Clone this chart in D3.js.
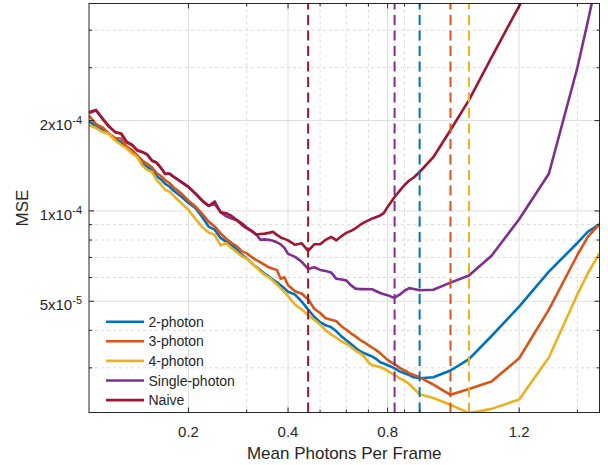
<!DOCTYPE html>
<html lang="en">
<head>
<meta charset="UTF-8">
<title>MSE vs mean photons per frame</title>
<script src="https://d3js.org/d3.v7.min.js"></script>
<style>
  body { margin: 0; background: #fff; }
  text { font-family: "Liberation Sans", Arial, Helvetica, sans-serif; fill: #262626; }
</style>
</head>
<body>
<script>
// x positions (log axis) shared by all series
var photons = [0.10, 0.105, 0.11, 0.115, 0.12, 0.125, 0.13, 0.135, 0.14, 0.145, 0.15, 0.155, 0.16, 0.165, 0.17, 0.175, 0.18,
  0.19, 0.20, 0.21, 0.22, 0.23, 0.24, 0.25, 0.26, 0.27, 0.28, 0.29, 0.30, 0.31, 0.32, 0.33, 0.34, 0.35, 0.36, 0.37, 0.38, 0.39, 0.40,
  0.42, 0.44, 0.46, 0.48, 0.50, 0.52, 0.54, 0.56, 0.58, 0.60, 0.62, 0.64, 0.66, 0.68, 0.70, 0.72, 0.74, 0.76, 0.78, 0.80, 0.82, 0.84,
  0.87, 0.90, 0.93, 0.96, 1.0,
  1.1, 1.24, 1.41, 1.65, 2.0, 2.46, 3.0, 3.23, 3.5];

// MSE, in units of 1e-4
var twoPhoton = [1.99, 1.910, 1.860, 1.806, 1.729, 1.696, 1.627, 1.572, 1.520, 1.445, 1.401, 1.369, 1.307, 1.273, 1.230, 1.206, 1.170,
  1.117, 1.063, 1.021, 0.955, 0.887, 0.866, 0.813, 0.789, 0.768, 0.745, 0.714, 0.695, 0.671, 0.651, 0.634, 0.617, 0.605, 0.590, 0.578, 0.565, 0.552, 0.538,
  0.526, 0.499, 0.469, 0.444, 0.426, 0.416, 0.410, 0.397, 0.382, 0.371, 0.360, 0.350, 0.341, 0.336, 0.331, 0.327, 0.321, 0.313, 0.310, 0.306, 0.303, 0.299,
  0.292, 0.288, 0.284, 0.279, 0.277,
  0.279, 0.294, 0.321, 0.383, 0.480, 0.628, 0.782, 0.853, 0.903];

var threePhoton = [2.078, 1.947, 1.898, 1.809, 1.749, 1.742, 1.639, 1.596, 1.530, 1.472, 1.436, 1.398, 1.338, 1.307, 1.266, 1.239, 1.199,
  1.144, 1.081, 1.033, 0.977, 0.921, 0.888, 0.842, 0.808, 0.782, 0.762, 0.733, 0.722, 0.703, 0.687, 0.674, 0.661, 0.649, 0.642, 0.636, 0.594, 0.601, 0.565,
  0.540, 0.530, 0.508, 0.472, 0.457, 0.439, 0.434, 0.429, 0.413, 0.402, 0.391, 0.382, 0.372, 0.365, 0.357, 0.350, 0.343, 0.336, 0.327, 0.319, 0.313, 0.309,
  0.300, 0.294, 0.288, 0.284, 0.279,
  0.264, 0.244, 0.255, 0.270, 0.323, 0.469, 0.713, 0.821, 0.903];

var fourPhoton = [1.932, 1.889, 1.831, 1.804, 1.716, 1.661, 1.614, 1.554, 1.512, 1.417, 1.369, 1.348, 1.268, 1.225, 1.175, 1.161, 1.126,
  1.063, 1.008, 0.940, 0.885, 0.847, 0.832, 0.768, 0.780, 0.751, 0.728, 0.706, 0.693, 0.671, 0.651, 0.629, 0.612, 0.601, 0.585, 0.569, 0.552, 0.536, 0.520,
  0.487, 0.470, 0.449, 0.434, 0.418, 0.400, 0.388, 0.378, 0.368, 0.361, 0.352, 0.342, 0.336, 0.327, 0.313, 0.306, 0.304, 0.302, 0.298, 0.293, 0.288, 0.284,
  0.277, 0.272, 0.265, 0.256, 0.245,
  0.238, 0.226, 0.212, 0.219, 0.2355, 0.325, 0.527, 0.621, 0.723];

var singlePhoton = [2.12, 2.16, 2.03, 1.91, 1.83, 1.81, 1.70, 1.66, 1.59, 1.57, 1.54, 1.47, 1.45, 1.39, 1.33, 1.33, 1.30,
  1.25, 1.20, 1.14, 1.08, 1.04, 1.055, 0.992, 0.959, 0.944, 0.93, 0.91, 0.881, 0.858, 0.838, 0.801, 0.804, 0.801, 0.795, 0.786, 0.774, 0.753, 0.719,
  0.703, 0.677, 0.641, 0.649, 0.636, 0.631, 0.624, 0.594, 0.591, 0.587, 0.565, 0.551, 0.549, 0.549, 0.548, 0.548, 0.540, 0.533, 0.528, 0.524, 0.518, 0.514,
  0.526, 0.542, 0.553, 0.549, 0.544,
  0.546, 0.577, 0.609, 0.709, 0.938, 1.33, 3.0, 4.3, 6.5];

var naive = [2.135, 2.17, 2.023, 1.91, 1.83, 1.811, 1.696, 1.658, 1.592, 1.572, 1.542, 1.472, 1.448, 1.392, 1.328, 1.333, 1.302,
  1.249, 1.202, 1.144, 1.084, 1.039, 1.075, 0.989, 0.982, 0.962, 0.933, 0.898, 0.875, 0.858, 0.835, 0.838, 0.84, 0.845, 0.852, 0.832, 0.816, 0.807, 0.798,
  0.771, 0.78, 0.736, 0.774, 0.774, 0.801, 0.819, 0.798, 0.823, 0.845, 0.858, 0.875, 0.898, 0.916, 0.930, 0.944, 0.955, 0.966, 0.985, 1.031, 1.071, 1.113,
  1.166, 1.22, 1.263, 1.292, 1.348,
  1.51, 1.86, 2.34, 3.25, 4.81, 7.3, 11, 13, 16];

var seriesNames = ['2-photon', '3-photon', '4-photon', 'Single-photon', 'Naive'];
var seriesValues = [twoPhoton, threePhoton, fourPhoton, singlePhoton, naive];
var seriesColors = ['#0072BD', '#D95319', '#EDB120', '#7E2F8E', '#A2142F'];
// position of each curve's minimum (dashed markers)
var optimum = [1.0, 1.24, 1.41, 0.84, 0.46];

var xTickVals = [0.2, 0.4, 0.8, 2];
var xTickLabels = ['0.2', '0.4', '0.8', '1.2'];
var xMinor = [0.3, 0.5, 0.6, 0.7, 0.9, 1, 3];
var yTickVals = [0.5, 1, 2];
var yTickBase = ['5x10', '1x10', '2x10'];
var yTickExp = ['-5', '-4', '-4'];
var yMinor = [0.3, 0.4, 0.6, 0.7, 0.8, 0.9, 3, 4];

var width = 608, height = 465;
var L = 89, R = 599.5, T = 3.5, B = 412.5;

var svg = d3.select('body').append('svg').attr('width', width).attr('height', height);

var x = d3.scaleLog().domain([0.1, 3.5]).range([L, R]);
var y = d3.scaleLog().domain([0.213, 4.91]).range([B, T]);

// grid
var grid = svg.append('g');
grid.selectAll('.xminor').data(xMinor).join('line')
  .attr('x1', d => x(d)).attr('x2', d => x(d)).attr('y1', T).attr('y2', B)
  .attr('stroke', '#dadada').attr('stroke-width', 1).attr('stroke-dasharray', '3,3');
grid.selectAll('.yminor').data(yMinor).join('line')
  .attr('y1', d => y(d)).attr('y2', d => y(d)).attr('x1', L).attr('x2', R)
  .attr('stroke', '#dadada').attr('stroke-width', 1).attr('stroke-dasharray', '3,3');
grid.selectAll('.xmajor').data(xTickVals).join('line')
  .attr('x1', d => x(d)).attr('x2', d => x(d)).attr('y1', T).attr('y2', B)
  .attr('stroke', '#dedede').attr('stroke-width', 1);
grid.selectAll('.ymajor').data(yTickVals).join('line')
  .attr('y1', d => y(d)).attr('y2', d => y(d)).attr('x1', L).attr('x2', R)
  .attr('stroke', '#dedede').attr('stroke-width', 1);

// curves
svg.append('clipPath').attr('id', 'plot')
  .append('rect').attr('x', L).attr('y', T).attr('width', R - L).attr('height', B - T);

var line = d3.line().x((d, i) => x(photons[i])).y(d => y(d));
var plot = svg.append('g').attr('clip-path', 'url(#plot)');
plot.selectAll('path.curve').data(seriesValues).join('path')
  .attr('class', 'curve')
  .attr('d', d => line(d))
  .attr('fill', 'none')
  .attr('stroke', (d, i) => seriesColors[i])
  .attr('stroke-width', 2.6)
  .attr('stroke-linejoin', 'round');

plot.selectAll('line.opt').data(optimum).join('line')
  .attr('class', 'opt')
  .attr('x1', d => x(d)).attr('x2', d => x(d)).attr('y1', B).attr('y2', T)
  .attr('stroke', (d, i) => seriesColors[i])
  .attr('stroke-width', 2)
  .attr('stroke-dasharray', '10,5.5');

// box and ticks
var axisColor = '#262626';
svg.append('rect').attr('x', L).attr('y', T).attr('width', R - L).attr('height', B - T)
  .attr('fill', 'none').attr('stroke', axisColor).attr('stroke-width', 1);

var ticks = svg.append('g').attr('stroke', axisColor).attr('stroke-width', 1);
function xTick(vals, len) {
  vals.forEach(function (d) {
    ticks.append('line').attr('x1', x(d)).attr('x2', x(d)).attr('y1', B).attr('y2', B - len);
    ticks.append('line').attr('x1', x(d)).attr('x2', x(d)).attr('y1', T).attr('y2', T + len);
  });
}
function yTick(vals, len) {
  vals.forEach(function (d) {
    ticks.append('line').attr('y1', y(d)).attr('y2', y(d)).attr('x1', L).attr('x2', L + len);
    ticks.append('line').attr('y1', y(d)).attr('y2', y(d)).attr('x1', R).attr('x2', R - len);
  });
}
xTick(xTickVals, 5); xTick(xMinor, 3);
yTick(yTickVals, 5); yTick(yMinor, 3);

// tick labels
svg.selectAll('text.xt').data(xTickVals).join('text')
  .attr('class', 'xt')
  .attr('x', d => x(d)).attr('y', B + 24)
  .attr('text-anchor', 'middle').attr('font-size', 15)
  .text((d, i) => xTickLabels[i]);

var yt = svg.selectAll('text.yt').data(yTickVals).join('text')
  .attr('class', 'yt')
  .attr('x', L - 7).attr('y', d => y(d) + 9)
  .attr('text-anchor', 'end').attr('font-size', 15);
yt.append('tspan').text((d, i) => yTickBase[i]);
yt.append('tspan').attr('font-size', 11).attr('dy', -6).text((d, i) => yTickExp[i]);

// axis labels
svg.append('text').attr('x', (L + R) / 2).attr('y', 459)
  .attr('text-anchor', 'middle').attr('font-size', 17).text('Mean Photons Per Frame');
svg.append('text').attr('transform', 'translate(28,208) rotate(-90)')
  .attr('text-anchor', 'middle').attr('font-size', 17).text('MSE');

// legend
var legend = svg.append('g');
seriesNames.forEach(function (name, i) {
  var ly = 321.7 + 19.6 * i;
  legend.append('line').attr('x1', 106).attr('x2', 144).attr('y1', ly).attr('y2', ly)
    .attr('stroke', seriesColors[i]).attr('stroke-width', 2.6);
  legend.append('text').attr('x', 148.5).attr('y', ly + 5).attr('font-size', 14).text(name);
});
</script>
</body>
</html>
